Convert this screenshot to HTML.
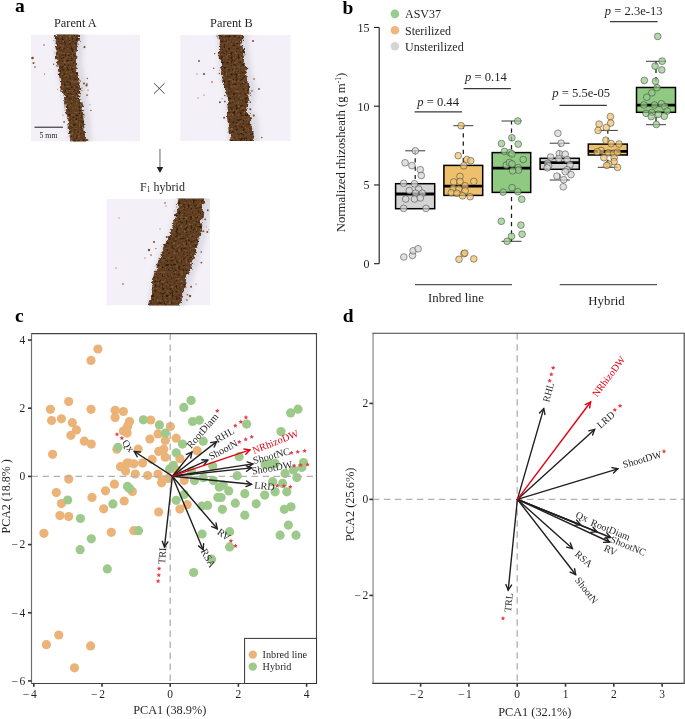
<!DOCTYPE html>
<html><head><meta charset="utf-8"><title>Figure</title>
<style>html,body{margin:0;padding:0;background:#fff;}body{width:685px;height:719px;overflow:hidden;font-family:"Liberation Serif",serif;}svg{display:block;will-change:transform;}</style>
</head><body>
<svg width="685" height="719" viewBox="0 0 685 719" font-family='"Liberation Serif", serif'><defs><filter id="soil" x="-20%" y="-5%" width="140%" height="110%" color-interpolation-filters="sRGB"><feTurbulence type="fractalNoise" baseFrequency="0.12" numOctaves="2" seed="4" result="n0"/><feDisplacementMap in="SourceGraphic" in2="n0" scale="6" xChannelSelector="R" yChannelSelector="G" result="d0"/><feTurbulence type="fractalNoise" baseFrequency="0.5" numOctaves="2" seed="8" result="n"/><feDisplacementMap in="d0" in2="n" scale="4" xChannelSelector="R" yChannelSelector="G" result="d"/><feTurbulence type="fractalNoise" baseFrequency="0.42" numOctaves="2" seed="11" result="n2"/><feColorMatrix in="n2" type="matrix" values="0 0 0 0 0.55  0 0 0 0 0.38  0 0 0 0 0.22  3 0 0 0 -1.55" result="lt"/><feColorMatrix in="n2" type="matrix" values="0 0 0 0 0.2  0 0 0 0 0.12  0 0 0 0 0.05  0 -5 0 0 2.3" result="dk"/><feMerge result="m"><feMergeNode in="d"/><feMergeNode in="lt"/><feMergeNode in="dk"/></feMerge><feComposite in="m" in2="d" operator="in" result="c"/><feGaussianBlur in="c" stdDeviation="0.35"/></filter><filter id="blur2" x="-20%" y="-20%" width="140%" height="140%"><feGaussianBlur stdDeviation="2.6"/></filter><clipPath id="clipA"><rect x="31" y="34.5" width="109" height="107.0"/></clipPath><clipPath id="clipB"><rect x="180.2" y="34.8" width="110.5" height="106.3"/></clipPath><clipPath id="clipF"><rect x="106.3" y="198.6" width="103.8" height="106.9"/></clipPath></defs><rect width="685" height="719" fill="#fff"/><g clip-path="url(#clipA)">
<rect x="31" y="34.5" width="109" height="107.0" fill="#f3f0f8"/>
<polygon points="55.4,30.0 54.3,45.0 54.8,55.0 56.2,65.0 58.7,80.0 62.5,95.0 65.0,110.0 67.5,125.0 71.0,146.0 91.5,146.0 90.5,125.0 89.0,110.0 86.5,95.0 85.7,80.0 82.2,65.0 82.5,55.0 83.5,45.0 84.8,30.0" fill="#dcd9e2" filter="url(#blur2)"/>
<polygon points="56.4,30.0 55.3,45.0 55.8,55.0 57.2,65.0 59.7,80.0 63.5,95.0 66.0,110.0 68.5,125.0 72.0,146.0 85.5,146.0 84.5,125.0 83.0,110.0 80.5,95.0 79.7,80.0 76.2,65.0 76.5,55.0 77.5,45.0 78.8,30.0" fill="#5f3e22" filter="url(#soil)"/>
<circle cx="44" cy="45" r="0.7" fill="#7a4c22"/>
<circle cx="32.5" cy="58" r="1.3" fill="#7a4c22"/>
<circle cx="33.5" cy="63" r="1.0" fill="#7a4c22"/>
<circle cx="35" cy="67" r="0.8" fill="#7a4c22"/>
<circle cx="44.5" cy="74" r="0.6" fill="#7a4c22"/>
<circle cx="84" cy="83.5" r="1.0" fill="#7a4c22"/>
<circle cx="87" cy="84" r="0.8" fill="#7a4c22"/>
<circle cx="88" cy="90" r="0.6" fill="#7a4c22"/>
<circle cx="82" cy="88" r="0.6" fill="#7a4c22"/>
<circle cx="87.5" cy="140" r="0.9" fill="#7a4c22"/>
<circle cx="60.8" cy="90.8" r="0.85" fill="#7a4c22"/>
<circle cx="87.0" cy="95.1" r="0.84" fill="#7a4c22"/>
<circle cx="89.9" cy="104.8" r="0.49" fill="#7a4c22"/>
<circle cx="84.5" cy="47.1" r="1.09" fill="#7a4c22"/>
<circle cx="53.7" cy="64.2" r="0.68" fill="#7a4c22"/>
<circle cx="87.3" cy="78.5" r="0.64" fill="#7a4c22"/>
<circle cx="86.5" cy="85.4" r="1.1" fill="#7a4c22"/>
<circle cx="62.9" cy="115.0" r="0.55" fill="#7a4c22"/>
<circle cx="57.6" cy="89.3" r="0.47" fill="#7a4c22"/>
<circle cx="81.9" cy="90.5" r="0.61" fill="#7a4c22"/>
<circle cx="64.1" cy="121.9" r="0.84" fill="#7a4c22"/>
<circle cx="90.9" cy="110.4" r="0.72" fill="#7a4c22"/>
</g>
<g clip-path="url(#clipB)">
<rect x="180.2" y="34.8" width="110.5" height="106.3" fill="#f3f0f8"/>
<polygon points="217.3,30.0 218.0,50.0 219.6,71.7 223.0,85.0 225.4,95.0 226.2,103.0 226.6,109.0 227.0,118.0 230.0,146.0 259.3,146.0 258.0,118.0 252.3,109.0 254.0,103.0 255.8,95.0 255.0,85.0 251.5,71.7 249.0,50.0 247.6,30.0" fill="#dcd9e2" filter="url(#blur2)"/>
<polygon points="218.3,30.0 219.0,50.0 220.6,71.7 224.0,85.0 226.4,95.0 227.2,103.0 227.6,109.0 228.0,118.0 231.0,146.0 253.3,146.0 252.0,118.0 246.3,109.0 248.0,103.0 249.8,95.0 249.0,85.0 245.5,71.7 243.0,50.0 241.6,30.0" fill="#5f3e22" filter="url(#soil)"/>
<circle cx="253" cy="41" r="1.0" fill="#7a4c22"/>
<circle cx="199" cy="61" r="0.9" fill="#7a4c22"/>
<circle cx="197" cy="74" r="0.6" fill="#7a4c22"/>
<circle cx="204" cy="74" r="1.1" fill="#7a4c22"/>
<circle cx="212" cy="82" r="0.8" fill="#7a4c22"/>
<circle cx="198" cy="98" r="0.6" fill="#7a4c22"/>
<circle cx="254" cy="79" r="0.8" fill="#7a4c22"/>
<circle cx="259" cy="89" r="0.9" fill="#7a4c22"/>
<circle cx="252" cy="91" r="0.8" fill="#7a4c22"/>
<circle cx="204" cy="95" r="0.6" fill="#7a4c22"/>
<circle cx="241" cy="130" r="0.6" fill="#7a4c22"/>
<circle cx="222.1" cy="98.8" r="0.51" fill="#7a4c22"/>
<circle cx="224.8" cy="101.5" r="0.86" fill="#7a4c22"/>
<circle cx="214.7" cy="53.7" r="0.67" fill="#7a4c22"/>
<circle cx="261.8" cy="137.5" r="0.77" fill="#7a4c22"/>
<circle cx="224.1" cy="117.8" r="1.02" fill="#7a4c22"/>
<circle cx="253.8" cy="115.6" r="1.03" fill="#7a4c22"/>
<circle cx="250.3" cy="109.2" r="1.05" fill="#7a4c22"/>
<circle cx="219.4" cy="73.4" r="0.75" fill="#7a4c22"/>
<circle cx="219.9" cy="102.3" r="0.99" fill="#7a4c22"/>
<circle cx="250.3" cy="102.1" r="0.85" fill="#7a4c22"/>
<circle cx="213.7" cy="68.3" r="0.69" fill="#7a4c22"/>
<circle cx="224.8" cy="95.5" r="0.83" fill="#7a4c22"/>
</g>
<g clip-path="url(#clipF)">
<rect x="106.3" y="198.6" width="103.8" height="106.9" fill="#f3f0f8"/>
<polygon points="178.5,193.0 174.0,215.0 168.5,234.6 157.8,258.0 152.0,280.0 147.5,310.0 184.9,310.0 192.5,280.0 200.3,258.0 206.2,234.6 209.0,215.0 212.0,193.0" fill="#dcd9e2" filter="url(#blur2)"/>
<polygon points="179.5,193.0 175.0,215.0 169.5,234.6 158.8,258.0 153.0,280.0 148.5,310.0 178.9,310.0 186.5,280.0 194.3,258.0 200.2,234.6 203.0,215.0 206.0,193.0" fill="#5f3e22" filter="url(#soil)"/>
<circle cx="165" cy="203" r="0.8" fill="#7a4c22"/>
<circle cx="166" cy="206" r="0.6" fill="#7a4c22"/>
<circle cx="160" cy="229" r="0.6" fill="#7a4c22"/>
<circle cx="154" cy="242" r="1.0" fill="#7a4c22"/>
<circle cx="149" cy="250" r="1.2" fill="#7a4c22"/>
<circle cx="151" cy="255" r="0.8" fill="#7a4c22"/>
<circle cx="159" cy="262" r="0.6" fill="#7a4c22"/>
<circle cx="145" cy="258" r="0.6" fill="#7a4c22"/>
<circle cx="116" cy="268" r="0.6" fill="#7a4c22"/>
<circle cx="123" cy="284" r="0.8" fill="#7a4c22"/>
<circle cx="181" cy="272" r="0.8" fill="#7a4c22"/>
<circle cx="188" cy="268" r="1.1" fill="#7a4c22"/>
<circle cx="191" cy="265" r="0.9" fill="#7a4c22"/>
<circle cx="196" cy="284" r="0.6" fill="#7a4c22"/>
<circle cx="190" cy="296" r="1.2" fill="#7a4c22"/>
<circle cx="187" cy="300" r="0.8" fill="#7a4c22"/>
<circle cx="119" cy="218" r="0.5" fill="#7a4c22"/>
<circle cx="211.2" cy="218.7" r="0.58" fill="#7a4c22"/>
<circle cx="155.9" cy="248.6" r="0.58" fill="#7a4c22"/>
<circle cx="208.8" cy="229.8" r="0.46" fill="#7a4c22"/>
<circle cx="205.1" cy="219.3" r="0.9" fill="#7a4c22"/>
<circle cx="207.8" cy="210.2" r="0.94" fill="#7a4c22"/>
<circle cx="187.4" cy="294.8" r="0.71" fill="#7a4c22"/>
<circle cx="201.4" cy="262.6" r="0.92" fill="#7a4c22"/>
<circle cx="191.1" cy="286.7" r="0.97" fill="#7a4c22"/>
<circle cx="203.3" cy="231.3" r="1.03" fill="#7a4c22"/>
<circle cx="166.8" cy="237.0" r="1.09" fill="#7a4c22"/>
<circle cx="207.3" cy="232.0" r="1.03" fill="#7a4c22"/>
<circle cx="201.3" cy="252.0" r="0.83" fill="#7a4c22"/>
<circle cx="206.4" cy="226.9" r="0.47" fill="#7a4c22"/>
</g>
<text x="14.90" y="11.70" font-size="19.5" text-anchor="start" font-weight="bold" font-style="normal" fill="#000" >a</text>
<text x="75.35" y="27.00" font-size="12.3" text-anchor="middle" font-weight="normal" font-style="normal" fill="#231f20" >Parent A</text>
<text x="231.45" y="27.00" font-size="12.3" text-anchor="middle" font-weight="normal" font-style="normal" fill="#231f20" >Parent B</text>
<line x1="34.50" y1="127.20" x2="63.00" y2="127.20" stroke="#1a1a1a" stroke-width="1.0" />
<text x="48.50" y="138.40" font-size="7.8" text-anchor="middle" font-weight="normal" font-style="normal" fill="#231f20" >5 mm</text>
<line x1="154.00" y1="83.20" x2="164.60" y2="93.70" stroke="#333" stroke-width="0.9" />
<line x1="154.00" y1="93.70" x2="164.60" y2="83.20" stroke="#333" stroke-width="0.9" />
<line x1="159.95" y1="148.90" x2="159.95" y2="167.50" stroke="#a8a4a4" stroke-width="1.7" />
<polygon points="156.7,167.0 163.2,167.0 159.95,173.0" fill="#231f20"/>
<text x="162.5" y="190.8" font-size="12" text-anchor="middle" fill="#231f20">F<tspan font-size="7.5" dy="1">1</tspan><tspan dy="-1"> hybrid</tspan></text>
<text x="342.60" y="14.00" font-size="19.5" text-anchor="start" font-weight="bold" font-style="normal" fill="#000" >b</text>
<line x1="379.20" y1="27.45" x2="379.20" y2="263.70" stroke="#1a1a1a" stroke-width="1.1" />
<line x1="374.00" y1="263.70" x2="379.20" y2="263.70" stroke="#1a1a1a" stroke-width="1.1" />
<text x="369.60" y="268.20" font-size="12" text-anchor="end" font-weight="normal" font-style="normal" fill="#231f20" >0</text>
<line x1="374.00" y1="184.95" x2="379.20" y2="184.95" stroke="#1a1a1a" stroke-width="1.1" />
<text x="369.60" y="189.45" font-size="12" text-anchor="end" font-weight="normal" font-style="normal" fill="#231f20" >5</text>
<line x1="374.00" y1="106.20" x2="379.20" y2="106.20" stroke="#1a1a1a" stroke-width="1.1" />
<text x="369.60" y="110.70" font-size="12" text-anchor="end" font-weight="normal" font-style="normal" fill="#231f20" >10</text>
<line x1="374.00" y1="27.45" x2="379.20" y2="27.45" stroke="#1a1a1a" stroke-width="1.1" />
<text x="369.60" y="31.95" font-size="12" text-anchor="end" font-weight="normal" font-style="normal" fill="#231f20" >15</text>
<text transform="translate(345.3,152.5) rotate(-90)" font-size="12.75" text-anchor="middle" fill="#231f20">Normalized rhizosheath (g m<tspan font-size="7.5" dy="-4.5">-1</tspan><tspan dy="4.5">)</tspan></text>
<circle cx="394.9" cy="13.9" r="4.3" fill="#98cd8c"/>
<text x="405.00" y="18.20" font-size="12" text-anchor="start" font-weight="normal" font-style="normal" fill="#231f20" >ASV37</text>
<circle cx="394.9" cy="30.2" r="4.3" fill="#f2b67c"/>
<text x="405.00" y="34.50" font-size="12" text-anchor="start" font-weight="normal" font-style="normal" fill="#231f20" >Sterilized</text>
<circle cx="394.9" cy="46.3" r="4.3" fill="#d3d5d5"/>
<text x="405.00" y="50.60" font-size="12" text-anchor="start" font-weight="normal" font-style="normal" fill="#231f20" >Unsterilized</text>
<line x1="415.20" y1="150.80" x2="415.20" y2="183.70" stroke="#1a1a1a" stroke-width="1.25" stroke-dasharray="4.2,4.1" stroke-dashoffset="0.8"/>
<line x1="405.20" y1="150.80" x2="425.20" y2="150.80" stroke="#3a3a3a" stroke-width="1.0" />
<rect x="395.60" y="183.70" width="39.10" height="25.00" fill="#d4d4d4" stroke="#000" stroke-width="1.5"/>
<line x1="395.60" y1="194.00" x2="434.70" y2="194.00" stroke="#000" stroke-width="2.8" />
<line x1="463.30" y1="125.70" x2="463.30" y2="165.40" stroke="#1a1a1a" stroke-width="1.25" stroke-dasharray="4.2,4.1" stroke-dashoffset="0.8"/>
<line x1="453.30" y1="125.70" x2="473.30" y2="125.70" stroke="#3a3a3a" stroke-width="1.0" />
<rect x="443.90" y="165.40" width="38.80" height="30.00" fill="#eec06c" stroke="#000" stroke-width="1.5"/>
<line x1="443.90" y1="186.20" x2="482.70" y2="186.20" stroke="#000" stroke-width="2.8" />
<line x1="511.50" y1="121.00" x2="511.50" y2="152.60" stroke="#1a1a1a" stroke-width="1.25" stroke-dasharray="4.2,4.1" stroke-dashoffset="0.8"/>
<line x1="501.50" y1="121.00" x2="521.50" y2="121.00" stroke="#3a3a3a" stroke-width="1.0" />
<line x1="511.50" y1="192.40" x2="511.50" y2="241.30" stroke="#1a1a1a" stroke-width="1.25" stroke-dasharray="4.2,4.1" stroke-dashoffset="3.6"/>
<line x1="501.50" y1="241.30" x2="521.50" y2="241.30" stroke="#3a3a3a" stroke-width="1.0" />
<rect x="492.20" y="152.60" width="38.50" height="39.80" fill="#90ca82" stroke="#000" stroke-width="1.5"/>
<line x1="492.20" y1="168.20" x2="530.70" y2="168.20" stroke="#000" stroke-width="2.8" />
<line x1="559.70" y1="143.20" x2="559.70" y2="158.30" stroke="#1a1a1a" stroke-width="1.25" stroke-dasharray="4.2,4.1" stroke-dashoffset="0.8"/>
<line x1="549.70" y1="143.20" x2="569.70" y2="143.20" stroke="#3a3a3a" stroke-width="1.0" />
<line x1="559.70" y1="169.30" x2="559.70" y2="180.00" stroke="#1a1a1a" stroke-width="1.25" stroke-dasharray="4.2,4.1" stroke-dashoffset="3.6"/>
<line x1="549.70" y1="180.00" x2="569.70" y2="180.00" stroke="#3a3a3a" stroke-width="1.0" />
<rect x="540.10" y="158.30" width="39.20" height="11.00" fill="#d4d4d4" stroke="#000" stroke-width="1.5"/>
<line x1="540.10" y1="162.60" x2="579.30" y2="162.60" stroke="#000" stroke-width="2.8" />
<line x1="607.80" y1="130.40" x2="607.80" y2="144.10" stroke="#1a1a1a" stroke-width="1.25" stroke-dasharray="4.2,4.1" stroke-dashoffset="0.8"/>
<line x1="597.80" y1="130.40" x2="617.80" y2="130.40" stroke="#3a3a3a" stroke-width="1.0" />
<line x1="607.80" y1="155.00" x2="607.80" y2="167.30" stroke="#1a1a1a" stroke-width="1.25" stroke-dasharray="4.2,4.1" stroke-dashoffset="3.6"/>
<line x1="597.80" y1="167.30" x2="617.80" y2="167.30" stroke="#3a3a3a" stroke-width="1.0" />
<rect x="588.30" y="144.10" width="39.00" height="10.90" fill="#eec06c" stroke="#000" stroke-width="1.5"/>
<line x1="588.30" y1="151.30" x2="627.30" y2="151.30" stroke="#000" stroke-width="2.8" />
<line x1="656.00" y1="61.30" x2="656.00" y2="87.50" stroke="#1a1a1a" stroke-width="1.25" stroke-dasharray="4.2,4.1" stroke-dashoffset="0.8"/>
<line x1="646.00" y1="61.30" x2="666.00" y2="61.30" stroke="#3a3a3a" stroke-width="1.0" />
<line x1="656.00" y1="112.30" x2="656.00" y2="124.70" stroke="#1a1a1a" stroke-width="1.25" stroke-dasharray="4.2,4.1" stroke-dashoffset="3.6"/>
<line x1="646.00" y1="124.70" x2="666.00" y2="124.70" stroke="#3a3a3a" stroke-width="1.0" />
<rect x="636.50" y="87.50" width="39.00" height="24.80" fill="#90ca82" stroke="#000" stroke-width="1.5"/>
<line x1="636.50" y1="105.10" x2="675.50" y2="105.10" stroke="#000" stroke-width="2.8" />
<circle cx="415.4" cy="150.8" r="3.35" fill="#d6d6d6" fill-opacity="0.72" stroke="#3c3c3c" stroke-opacity="0.75" stroke-width="0.7"/>
<circle cx="405.1" cy="162.8" r="3.35" fill="#d6d6d6" fill-opacity="0.72" stroke="#3c3c3c" stroke-opacity="0.75" stroke-width="0.7"/>
<circle cx="411.9" cy="165.6" r="3.35" fill="#d6d6d6" fill-opacity="0.72" stroke="#3c3c3c" stroke-opacity="0.75" stroke-width="0.7"/>
<circle cx="420.3" cy="169.7" r="3.35" fill="#d6d6d6" fill-opacity="0.72" stroke="#3c3c3c" stroke-opacity="0.75" stroke-width="0.7"/>
<circle cx="421.3" cy="175.5" r="3.35" fill="#d6d6d6" fill-opacity="0.72" stroke="#3c3c3c" stroke-opacity="0.75" stroke-width="0.7"/>
<circle cx="403.6" cy="183.3" r="3.35" fill="#d6d6d6" fill-opacity="0.72" stroke="#3c3c3c" stroke-opacity="0.75" stroke-width="0.7"/>
<circle cx="414.5" cy="183.8" r="3.35" fill="#d6d6d6" fill-opacity="0.72" stroke="#3c3c3c" stroke-opacity="0.75" stroke-width="0.7"/>
<circle cx="409.3" cy="190.6" r="3.35" fill="#d6d6d6" fill-opacity="0.72" stroke="#3c3c3c" stroke-opacity="0.75" stroke-width="0.7"/>
<circle cx="418.7" cy="189.1" r="3.35" fill="#d6d6d6" fill-opacity="0.72" stroke="#3c3c3c" stroke-opacity="0.75" stroke-width="0.7"/>
<circle cx="415.6" cy="193.2" r="3.35" fill="#d6d6d6" fill-opacity="0.72" stroke="#3c3c3c" stroke-opacity="0.75" stroke-width="0.7"/>
<circle cx="422.4" cy="193.2" r="3.35" fill="#d6d6d6" fill-opacity="0.72" stroke="#3c3c3c" stroke-opacity="0.75" stroke-width="0.7"/>
<circle cx="405.7" cy="199" r="3.35" fill="#d6d6d6" fill-opacity="0.72" stroke="#3c3c3c" stroke-opacity="0.75" stroke-width="0.7"/>
<circle cx="414.5" cy="199" r="3.35" fill="#d6d6d6" fill-opacity="0.72" stroke="#3c3c3c" stroke-opacity="0.75" stroke-width="0.7"/>
<circle cx="420.3" cy="197.9" r="3.35" fill="#d6d6d6" fill-opacity="0.72" stroke="#3c3c3c" stroke-opacity="0.75" stroke-width="0.7"/>
<circle cx="403.6" cy="208.4" r="3.35" fill="#d6d6d6" fill-opacity="0.72" stroke="#3c3c3c" stroke-opacity="0.75" stroke-width="0.7"/>
<circle cx="426" cy="208.4" r="3.35" fill="#d6d6d6" fill-opacity="0.72" stroke="#3c3c3c" stroke-opacity="0.75" stroke-width="0.7"/>
<circle cx="403.8" cy="257" r="3.35" fill="#d6d6d6" fill-opacity="0.72" stroke="#3c3c3c" stroke-opacity="0.75" stroke-width="0.7"/>
<circle cx="412.5" cy="255.4" r="3.35" fill="#d6d6d6" fill-opacity="0.72" stroke="#3c3c3c" stroke-opacity="0.75" stroke-width="0.7"/>
<circle cx="413.1" cy="250.8" r="3.35" fill="#d6d6d6" fill-opacity="0.72" stroke="#3c3c3c" stroke-opacity="0.75" stroke-width="0.7"/>
<circle cx="418.1" cy="248.8" r="3.35" fill="#d6d6d6" fill-opacity="0.72" stroke="#3c3c3c" stroke-opacity="0.75" stroke-width="0.7"/>
<circle cx="557.9" cy="133.3" r="3.35" fill="#d6d6d6" fill-opacity="0.72" stroke="#3c3c3c" stroke-opacity="0.75" stroke-width="0.7"/>
<circle cx="561.1" cy="143.2" r="3.35" fill="#d6d6d6" fill-opacity="0.72" stroke="#3c3c3c" stroke-opacity="0.75" stroke-width="0.7"/>
<circle cx="559.3" cy="153.7" r="3.35" fill="#d6d6d6" fill-opacity="0.72" stroke="#3c3c3c" stroke-opacity="0.75" stroke-width="0.7"/>
<circle cx="565.2" cy="154.2" r="3.35" fill="#d6d6d6" fill-opacity="0.72" stroke="#3c3c3c" stroke-opacity="0.75" stroke-width="0.7"/>
<circle cx="550.6" cy="157.1" r="3.35" fill="#d6d6d6" fill-opacity="0.72" stroke="#3c3c3c" stroke-opacity="0.75" stroke-width="0.7"/>
<circle cx="558.8" cy="158.6" r="3.35" fill="#d6d6d6" fill-opacity="0.72" stroke="#3c3c3c" stroke-opacity="0.75" stroke-width="0.7"/>
<circle cx="567.1" cy="159.5" r="3.35" fill="#d6d6d6" fill-opacity="0.72" stroke="#3c3c3c" stroke-opacity="0.75" stroke-width="0.7"/>
<circle cx="547.6" cy="163.4" r="3.35" fill="#d6d6d6" fill-opacity="0.72" stroke="#3c3c3c" stroke-opacity="0.75" stroke-width="0.7"/>
<circle cx="548.6" cy="165.9" r="3.35" fill="#d6d6d6" fill-opacity="0.72" stroke="#3c3c3c" stroke-opacity="0.75" stroke-width="0.7"/>
<circle cx="570" cy="164.9" r="3.35" fill="#d6d6d6" fill-opacity="0.72" stroke="#3c3c3c" stroke-opacity="0.75" stroke-width="0.7"/>
<circle cx="567.1" cy="169.7" r="3.35" fill="#d6d6d6" fill-opacity="0.72" stroke="#3c3c3c" stroke-opacity="0.75" stroke-width="0.7"/>
<circle cx="571" cy="174.6" r="3.35" fill="#d6d6d6" fill-opacity="0.72" stroke="#3c3c3c" stroke-opacity="0.75" stroke-width="0.7"/>
<circle cx="556.9" cy="176.1" r="3.35" fill="#d6d6d6" fill-opacity="0.72" stroke="#3c3c3c" stroke-opacity="0.75" stroke-width="0.7"/>
<circle cx="563.7" cy="179.7" r="3.35" fill="#d6d6d6" fill-opacity="0.72" stroke="#3c3c3c" stroke-opacity="0.75" stroke-width="0.7"/>
<circle cx="563.2" cy="186.8" r="3.35" fill="#d6d6d6" fill-opacity="0.72" stroke="#3c3c3c" stroke-opacity="0.75" stroke-width="0.7"/>
<circle cx="547.2" cy="167.8" r="3.35" fill="#d6d6d6" fill-opacity="0.72" stroke="#3c3c3c" stroke-opacity="0.75" stroke-width="0.7"/>
<circle cx="565.2" cy="171.7" r="3.35" fill="#d6d6d6" fill-opacity="0.72" stroke="#3c3c3c" stroke-opacity="0.75" stroke-width="0.7"/>
<circle cx="461.1" cy="125.7" r="3.35" fill="#f0c26e" fill-opacity="0.72" stroke="#3c3c3c" stroke-opacity="0.75" stroke-width="0.7"/>
<circle cx="458.2" cy="155.7" r="3.35" fill="#f0c26e" fill-opacity="0.72" stroke="#3c3c3c" stroke-opacity="0.75" stroke-width="0.7"/>
<circle cx="466.9" cy="159.5" r="3.35" fill="#f0c26e" fill-opacity="0.72" stroke="#3c3c3c" stroke-opacity="0.75" stroke-width="0.7"/>
<circle cx="470.7" cy="160.7" r="3.35" fill="#f0c26e" fill-opacity="0.72" stroke="#3c3c3c" stroke-opacity="0.75" stroke-width="0.7"/>
<circle cx="463.8" cy="165.8" r="3.35" fill="#f0c26e" fill-opacity="0.72" stroke="#3c3c3c" stroke-opacity="0.75" stroke-width="0.7"/>
<circle cx="460" cy="176.4" r="3.35" fill="#f0c26e" fill-opacity="0.72" stroke="#3c3c3c" stroke-opacity="0.75" stroke-width="0.7"/>
<circle cx="453.8" cy="182" r="3.35" fill="#f0c26e" fill-opacity="0.72" stroke="#3c3c3c" stroke-opacity="0.75" stroke-width="0.7"/>
<circle cx="460" cy="181.4" r="3.35" fill="#f0c26e" fill-opacity="0.72" stroke="#3c3c3c" stroke-opacity="0.75" stroke-width="0.7"/>
<circle cx="473.8" cy="181.4" r="3.35" fill="#f0c26e" fill-opacity="0.72" stroke="#3c3c3c" stroke-opacity="0.75" stroke-width="0.7"/>
<circle cx="465.1" cy="185.8" r="3.35" fill="#f0c26e" fill-opacity="0.72" stroke="#3c3c3c" stroke-opacity="0.75" stroke-width="0.7"/>
<circle cx="453.2" cy="188.3" r="3.35" fill="#f0c26e" fill-opacity="0.72" stroke="#3c3c3c" stroke-opacity="0.75" stroke-width="0.7"/>
<circle cx="458.8" cy="188.9" r="3.35" fill="#f0c26e" fill-opacity="0.72" stroke="#3c3c3c" stroke-opacity="0.75" stroke-width="0.7"/>
<circle cx="465.1" cy="190.8" r="3.35" fill="#f0c26e" fill-opacity="0.72" stroke="#3c3c3c" stroke-opacity="0.75" stroke-width="0.7"/>
<circle cx="451.3" cy="192.7" r="3.35" fill="#f0c26e" fill-opacity="0.72" stroke="#3c3c3c" stroke-opacity="0.75" stroke-width="0.7"/>
<circle cx="456.9" cy="193.3" r="3.35" fill="#f0c26e" fill-opacity="0.72" stroke="#3c3c3c" stroke-opacity="0.75" stroke-width="0.7"/>
<circle cx="462.6" cy="195.8" r="3.35" fill="#f0c26e" fill-opacity="0.72" stroke="#3c3c3c" stroke-opacity="0.75" stroke-width="0.7"/>
<circle cx="470.1" cy="196.7" r="3.35" fill="#f0c26e" fill-opacity="0.72" stroke="#3c3c3c" stroke-opacity="0.75" stroke-width="0.7"/>
<circle cx="459" cy="259.3" r="3.35" fill="#f0c26e" fill-opacity="0.72" stroke="#3c3c3c" stroke-opacity="0.75" stroke-width="0.7"/>
<circle cx="463.9" cy="253.7" r="3.35" fill="#f0c26e" fill-opacity="0.72" stroke="#3c3c3c" stroke-opacity="0.75" stroke-width="0.7"/>
<circle cx="464.8" cy="253.1" r="3.35" fill="#f0c26e" fill-opacity="0.72" stroke="#3c3c3c" stroke-opacity="0.75" stroke-width="0.7"/>
<circle cx="473.8" cy="258.9" r="3.35" fill="#f0c26e" fill-opacity="0.72" stroke="#3c3c3c" stroke-opacity="0.75" stroke-width="0.7"/>
<circle cx="610.4" cy="116.6" r="3.35" fill="#f0c26e" fill-opacity="0.72" stroke="#3c3c3c" stroke-opacity="0.75" stroke-width="0.7"/>
<circle cx="610.7" cy="123.1" r="3.35" fill="#f0c26e" fill-opacity="0.72" stroke="#3c3c3c" stroke-opacity="0.75" stroke-width="0.7"/>
<circle cx="599.1" cy="124.1" r="3.35" fill="#f0c26e" fill-opacity="0.72" stroke="#3c3c3c" stroke-opacity="0.75" stroke-width="0.7"/>
<circle cx="606.3" cy="127.5" r="3.35" fill="#f0c26e" fill-opacity="0.72" stroke="#3c3c3c" stroke-opacity="0.75" stroke-width="0.7"/>
<circle cx="598.1" cy="130.4" r="3.35" fill="#f0c26e" fill-opacity="0.72" stroke="#3c3c3c" stroke-opacity="0.75" stroke-width="0.7"/>
<circle cx="605.9" cy="140.2" r="3.35" fill="#f0c26e" fill-opacity="0.72" stroke="#3c3c3c" stroke-opacity="0.75" stroke-width="0.7"/>
<circle cx="611.2" cy="143.6" r="3.35" fill="#f0c26e" fill-opacity="0.72" stroke="#3c3c3c" stroke-opacity="0.75" stroke-width="0.7"/>
<circle cx="619" cy="144" r="3.35" fill="#f0c26e" fill-opacity="0.72" stroke="#3c3c3c" stroke-opacity="0.75" stroke-width="0.7"/>
<circle cx="601" cy="150.4" r="3.35" fill="#f0c26e" fill-opacity="0.72" stroke="#3c3c3c" stroke-opacity="0.75" stroke-width="0.7"/>
<circle cx="597.1" cy="151.8" r="3.35" fill="#f0c26e" fill-opacity="0.72" stroke="#3c3c3c" stroke-opacity="0.75" stroke-width="0.7"/>
<circle cx="608.3" cy="152.8" r="3.35" fill="#f0c26e" fill-opacity="0.72" stroke="#3c3c3c" stroke-opacity="0.75" stroke-width="0.7"/>
<circle cx="613.6" cy="153.3" r="3.35" fill="#f0c26e" fill-opacity="0.72" stroke="#3c3c3c" stroke-opacity="0.75" stroke-width="0.7"/>
<circle cx="617.5" cy="152.3" r="3.35" fill="#f0c26e" fill-opacity="0.72" stroke="#3c3c3c" stroke-opacity="0.75" stroke-width="0.7"/>
<circle cx="603.9" cy="157.7" r="3.35" fill="#f0c26e" fill-opacity="0.72" stroke="#3c3c3c" stroke-opacity="0.75" stroke-width="0.7"/>
<circle cx="614.1" cy="157.7" r="3.35" fill="#f0c26e" fill-opacity="0.72" stroke="#3c3c3c" stroke-opacity="0.75" stroke-width="0.7"/>
<circle cx="614.1" cy="161.6" r="3.35" fill="#f0c26e" fill-opacity="0.72" stroke="#3c3c3c" stroke-opacity="0.75" stroke-width="0.7"/>
<circle cx="608.8" cy="164" r="3.35" fill="#f0c26e" fill-opacity="0.72" stroke="#3c3c3c" stroke-opacity="0.75" stroke-width="0.7"/>
<circle cx="606.8" cy="165.4" r="3.35" fill="#f0c26e" fill-opacity="0.72" stroke="#3c3c3c" stroke-opacity="0.75" stroke-width="0.7"/>
<circle cx="617.5" cy="167.4" r="3.35" fill="#f0c26e" fill-opacity="0.72" stroke="#3c3c3c" stroke-opacity="0.75" stroke-width="0.7"/>
<circle cx="517.8" cy="121" r="3.35" fill="#93cc86" fill-opacity="0.72" stroke="#3c3c3c" stroke-opacity="0.75" stroke-width="0.7"/>
<circle cx="511.9" cy="137.8" r="3.35" fill="#93cc86" fill-opacity="0.72" stroke="#3c3c3c" stroke-opacity="0.75" stroke-width="0.7"/>
<circle cx="501.5" cy="143.6" r="3.35" fill="#93cc86" fill-opacity="0.72" stroke="#3c3c3c" stroke-opacity="0.75" stroke-width="0.7"/>
<circle cx="518.2" cy="144.1" r="3.35" fill="#93cc86" fill-opacity="0.72" stroke="#3c3c3c" stroke-opacity="0.75" stroke-width="0.7"/>
<circle cx="504.4" cy="151.4" r="3.35" fill="#93cc86" fill-opacity="0.72" stroke="#3c3c3c" stroke-opacity="0.75" stroke-width="0.7"/>
<circle cx="510.1" cy="152.6" r="3.35" fill="#93cc86" fill-opacity="0.72" stroke="#3c3c3c" stroke-opacity="0.75" stroke-width="0.7"/>
<circle cx="512" cy="153.9" r="3.35" fill="#93cc86" fill-opacity="0.72" stroke="#3c3c3c" stroke-opacity="0.75" stroke-width="0.7"/>
<circle cx="523.2" cy="159.5" r="3.35" fill="#93cc86" fill-opacity="0.72" stroke="#3c3c3c" stroke-opacity="0.75" stroke-width="0.7"/>
<circle cx="506.3" cy="165.1" r="3.35" fill="#93cc86" fill-opacity="0.72" stroke="#3c3c3c" stroke-opacity="0.75" stroke-width="0.7"/>
<circle cx="509.4" cy="162.6" r="3.35" fill="#93cc86" fill-opacity="0.72" stroke="#3c3c3c" stroke-opacity="0.75" stroke-width="0.7"/>
<circle cx="512" cy="163.9" r="3.35" fill="#93cc86" fill-opacity="0.72" stroke="#3c3c3c" stroke-opacity="0.75" stroke-width="0.7"/>
<circle cx="518.2" cy="167.6" r="3.35" fill="#93cc86" fill-opacity="0.72" stroke="#3c3c3c" stroke-opacity="0.75" stroke-width="0.7"/>
<circle cx="518.6" cy="170.1" r="3.35" fill="#93cc86" fill-opacity="0.72" stroke="#3c3c3c" stroke-opacity="0.75" stroke-width="0.7"/>
<circle cx="512.6" cy="170.8" r="3.35" fill="#93cc86" fill-opacity="0.72" stroke="#3c3c3c" stroke-opacity="0.75" stroke-width="0.7"/>
<circle cx="512" cy="187.7" r="3.35" fill="#93cc86" fill-opacity="0.72" stroke="#3c3c3c" stroke-opacity="0.75" stroke-width="0.7"/>
<circle cx="503.2" cy="192.1" r="3.35" fill="#93cc86" fill-opacity="0.72" stroke="#3c3c3c" stroke-opacity="0.75" stroke-width="0.7"/>
<circle cx="517.8" cy="191.7" r="3.35" fill="#93cc86" fill-opacity="0.72" stroke="#3c3c3c" stroke-opacity="0.75" stroke-width="0.7"/>
<circle cx="521.7" cy="199.2" r="3.35" fill="#93cc86" fill-opacity="0.72" stroke="#3c3c3c" stroke-opacity="0.75" stroke-width="0.7"/>
<circle cx="501.3" cy="221.3" r="3.35" fill="#93cc86" fill-opacity="0.72" stroke="#3c3c3c" stroke-opacity="0.75" stroke-width="0.7"/>
<circle cx="520.9" cy="225.1" r="3.35" fill="#93cc86" fill-opacity="0.72" stroke="#3c3c3c" stroke-opacity="0.75" stroke-width="0.7"/>
<circle cx="522.1" cy="234.2" r="3.35" fill="#93cc86" fill-opacity="0.72" stroke="#3c3c3c" stroke-opacity="0.75" stroke-width="0.7"/>
<circle cx="511.5" cy="236.3" r="3.35" fill="#93cc86" fill-opacity="0.72" stroke="#3c3c3c" stroke-opacity="0.75" stroke-width="0.7"/>
<circle cx="507.1" cy="241.3" r="3.35" fill="#93cc86" fill-opacity="0.72" stroke="#3c3c3c" stroke-opacity="0.75" stroke-width="0.7"/>
<circle cx="657.7" cy="36.4" r="3.35" fill="#93cc86" fill-opacity="0.72" stroke="#3c3c3c" stroke-opacity="0.75" stroke-width="0.7"/>
<circle cx="662.1" cy="61.2" r="3.35" fill="#93cc86" fill-opacity="0.72" stroke="#3c3c3c" stroke-opacity="0.75" stroke-width="0.7"/>
<circle cx="655.1" cy="66.1" r="3.35" fill="#93cc86" fill-opacity="0.72" stroke="#3c3c3c" stroke-opacity="0.75" stroke-width="0.7"/>
<circle cx="661.8" cy="69.9" r="3.35" fill="#93cc86" fill-opacity="0.72" stroke="#3c3c3c" stroke-opacity="0.75" stroke-width="0.7"/>
<circle cx="644.3" cy="80.4" r="3.35" fill="#93cc86" fill-opacity="0.72" stroke="#3c3c3c" stroke-opacity="0.75" stroke-width="0.7"/>
<circle cx="655.5" cy="81.2" r="3.35" fill="#93cc86" fill-opacity="0.72" stroke="#3c3c3c" stroke-opacity="0.75" stroke-width="0.7"/>
<circle cx="657" cy="87.7" r="3.35" fill="#93cc86" fill-opacity="0.72" stroke="#3c3c3c" stroke-opacity="0.75" stroke-width="0.7"/>
<circle cx="651.9" cy="92.8" r="3.35" fill="#93cc86" fill-opacity="0.72" stroke="#3c3c3c" stroke-opacity="0.75" stroke-width="0.7"/>
<circle cx="646.8" cy="97.2" r="3.35" fill="#93cc86" fill-opacity="0.72" stroke="#3c3c3c" stroke-opacity="0.75" stroke-width="0.7"/>
<circle cx="643.9" cy="105" r="3.35" fill="#93cc86" fill-opacity="0.72" stroke="#3c3c3c" stroke-opacity="0.75" stroke-width="0.7"/>
<circle cx="654.5" cy="105" r="3.35" fill="#93cc86" fill-opacity="0.72" stroke="#3c3c3c" stroke-opacity="0.75" stroke-width="0.7"/>
<circle cx="661.4" cy="103.8" r="3.35" fill="#93cc86" fill-opacity="0.72" stroke="#3c3c3c" stroke-opacity="0.75" stroke-width="0.7"/>
<circle cx="665" cy="106.7" r="3.35" fill="#93cc86" fill-opacity="0.72" stroke="#3c3c3c" stroke-opacity="0.75" stroke-width="0.7"/>
<circle cx="667.2" cy="111.1" r="3.35" fill="#93cc86" fill-opacity="0.72" stroke="#3c3c3c" stroke-opacity="0.75" stroke-width="0.7"/>
<circle cx="646" cy="113.3" r="3.35" fill="#93cc86" fill-opacity="0.72" stroke="#3c3c3c" stroke-opacity="0.75" stroke-width="0.7"/>
<circle cx="651.9" cy="112.5" r="3.35" fill="#93cc86" fill-opacity="0.72" stroke="#3c3c3c" stroke-opacity="0.75" stroke-width="0.7"/>
<circle cx="658.4" cy="114.3" r="3.35" fill="#93cc86" fill-opacity="0.72" stroke="#3c3c3c" stroke-opacity="0.75" stroke-width="0.7"/>
<circle cx="664.3" cy="116.2" r="3.35" fill="#93cc86" fill-opacity="0.72" stroke="#3c3c3c" stroke-opacity="0.75" stroke-width="0.7"/>
<circle cx="651.2" cy="116.6" r="3.35" fill="#93cc86" fill-opacity="0.72" stroke="#3c3c3c" stroke-opacity="0.75" stroke-width="0.7"/>
<circle cx="656.3" cy="124.5" r="3.35" fill="#93cc86" fill-opacity="0.72" stroke="#3c3c3c" stroke-opacity="0.75" stroke-width="0.7"/>
<text x="417.20" y="106.20" font-size="12.6" fill="#231f20"><tspan font-style="italic">p</tspan> = 0.44</text>
<line x1="414.60" y1="111.90" x2="462.10" y2="111.90" stroke="#3a3a3a" stroke-width="1.2" />
<text x="465.10" y="80.80" font-size="12.6" fill="#231f20"><tspan font-style="italic">p</tspan> = 0.14</text>
<line x1="463.60" y1="88.70" x2="510.90" y2="88.70" stroke="#3a3a3a" stroke-width="1.2" />
<text x="552.30" y="97.40" font-size="12.6" fill="#231f20"><tspan font-style="italic">p</tspan> = 5.5e-05</text>
<line x1="559.50" y1="105.40" x2="606.80" y2="105.40" stroke="#3a3a3a" stroke-width="1.2" />
<text x="604.80" y="14.90" font-size="12.6" fill="#231f20"><tspan font-style="italic">p</tspan> = 2.3e-13</text>
<line x1="610.10" y1="21.70" x2="657.60" y2="21.70" stroke="#3a3a3a" stroke-width="1.2" />
<line x1="415.00" y1="284.70" x2="512.00" y2="284.70" stroke="#555" stroke-width="1.3" />
<line x1="559.70" y1="284.70" x2="657.00" y2="284.70" stroke="#555" stroke-width="1.3" />
<text x="456.00" y="302.30" font-size="12.8" text-anchor="middle" font-weight="normal" font-style="normal" fill="#231f20" >Inbred line</text>
<text x="606.50" y="304.90" font-size="12.8" text-anchor="middle" font-weight="normal" font-style="normal" fill="#231f20" >Hybrid</text>
<text x="14.90" y="321.80" font-size="19.5" text-anchor="start" font-weight="bold" font-style="normal" fill="#000" >c</text>
<circle cx="97.9" cy="349.0" r="4.6" fill="#ebb378"/>
<circle cx="91.0" cy="360.4" r="4.6" fill="#ebb378"/>
<circle cx="68.7" cy="401.5" r="4.6" fill="#ebb378"/>
<circle cx="50.4" cy="409.3" r="4.6" fill="#ebb378"/>
<circle cx="91.0" cy="409.3" r="4.6" fill="#ebb378"/>
<circle cx="51.6" cy="420.5" r="4.6" fill="#ebb378"/>
<circle cx="61.4" cy="418.8" r="4.6" fill="#ebb378"/>
<circle cx="72.3" cy="422.7" r="4.6" fill="#ebb378"/>
<circle cx="115.1" cy="410.3" r="4.6" fill="#ebb378"/>
<circle cx="123.4" cy="411.5" r="4.6" fill="#ebb378"/>
<circle cx="115.1" cy="417.6" r="4.6" fill="#ebb378"/>
<circle cx="76.4" cy="429.9" r="4.6" fill="#ebb378"/>
<circle cx="70.9" cy="435.3" r="4.6" fill="#ebb378"/>
<circle cx="84.3" cy="441.2" r="4.6" fill="#ebb378"/>
<circle cx="91.3" cy="444.1" r="4.6" fill="#ebb378"/>
<circle cx="52.6" cy="454.3" r="4.6" fill="#ebb378"/>
<circle cx="116.9" cy="449.2" r="4.6" fill="#ebb378"/>
<circle cx="123.4" cy="431" r="4.6" fill="#ebb378"/>
<circle cx="127.8" cy="425.8" r="4.6" fill="#ebb378"/>
<circle cx="127.1" cy="433.1" r="4.6" fill="#ebb378"/>
<circle cx="120.5" cy="466.7" r="4.6" fill="#ebb378"/>
<circle cx="127.1" cy="463.1" r="4.6" fill="#ebb378"/>
<circle cx="125.6" cy="471.1" r="4.6" fill="#ebb378"/>
<circle cx="68.7" cy="479.1" r="4.6" fill="#ebb378"/>
<circle cx="114.4" cy="484.2" r="4.6" fill="#ebb378"/>
<circle cx="105.5" cy="490.8" r="4.6" fill="#ebb378"/>
<circle cx="56.3" cy="492.6" r="4.6" fill="#ebb378"/>
<circle cx="92.0" cy="497.4" r="4.6" fill="#ebb378"/>
<circle cx="61.4" cy="503.6" r="4.6" fill="#ebb378"/>
<circle cx="124.2" cy="501" r="4.6" fill="#ebb378"/>
<circle cx="103.7" cy="508.8" r="4.6" fill="#ebb378"/>
<circle cx="59.9" cy="515.6" r="4.6" fill="#ebb378"/>
<circle cx="68.7" cy="516.6" r="4.6" fill="#ebb378"/>
<circle cx="129.5" cy="421.5" r="4.6" fill="#ebb378"/>
<circle cx="150.7" cy="420" r="4.6" fill="#ebb378"/>
<circle cx="170.4" cy="426.6" r="4.6" fill="#ebb378"/>
<circle cx="126.6" cy="428.8" r="4.6" fill="#ebb378"/>
<circle cx="158" cy="433.9" r="4.6" fill="#ebb378"/>
<circle cx="149.9" cy="439" r="4.6" fill="#ebb378"/>
<circle cx="176.2" cy="438.2" r="4.6" fill="#ebb378"/>
<circle cx="165.3" cy="440.4" r="4.6" fill="#ebb378"/>
<circle cx="138.2" cy="449.2" r="4.6" fill="#ebb378"/>
<circle cx="158.7" cy="451.4" r="4.6" fill="#ebb378"/>
<circle cx="163.8" cy="449.2" r="4.6" fill="#ebb378"/>
<circle cx="165.3" cy="457.2" r="4.6" fill="#ebb378"/>
<circle cx="152.1" cy="459.4" r="4.6" fill="#ebb378"/>
<circle cx="179.9" cy="458.7" r="4.6" fill="#ebb378"/>
<circle cx="197.1" cy="450.7" r="4.6" fill="#ebb378"/>
<circle cx="128.8" cy="463.1" r="4.6" fill="#ebb378"/>
<circle cx="133.9" cy="463.8" r="4.6" fill="#ebb378"/>
<circle cx="142.6" cy="463.1" r="4.6" fill="#ebb378"/>
<circle cx="135.3" cy="474" r="4.6" fill="#ebb378"/>
<circle cx="147.7" cy="475.5" r="4.6" fill="#ebb378"/>
<circle cx="158" cy="474" r="4.6" fill="#ebb378"/>
<circle cx="162.3" cy="479.9" r="4.6" fill="#ebb378"/>
<circle cx="168.2" cy="478.4" r="4.6" fill="#ebb378"/>
<circle cx="161.6" cy="482.8" r="4.6" fill="#ebb378"/>
<circle cx="176.9" cy="470.4" r="4.6" fill="#ebb378"/>
<circle cx="184.2" cy="480.6" r="4.6" fill="#ebb378"/>
<circle cx="132.4" cy="491.5" r="4.6" fill="#ebb378"/>
<circle cx="179.9" cy="509.1" r="4.6" fill="#ebb378"/>
<circle cx="187.2" cy="504.7" r="4.6" fill="#ebb378"/>
<circle cx="158.7" cy="512" r="4.6" fill="#ebb378"/>
<circle cx="133.8" cy="530.7" r="4.6" fill="#ebb378"/>
<circle cx="43.9" cy="533.3" r="4.6" fill="#ebb378"/>
<circle cx="111.3" cy="532.3" r="4.6" fill="#ebb378"/>
<circle cx="46.4" cy="644.7" r="4.6" fill="#ebb378"/>
<circle cx="58.7" cy="635" r="4.6" fill="#ebb378"/>
<circle cx="90.6" cy="645.9" r="4.6" fill="#ebb378"/>
<circle cx="74.5" cy="667.8" r="4.6" fill="#ebb378"/>
<circle cx="191.1" cy="400.4" r="4.6" fill="#9dca8a"/>
<circle cx="183.8" cy="407.4" r="4.6" fill="#9dca8a"/>
<circle cx="192.6" cy="421.5" r="4.6" fill="#9dca8a"/>
<circle cx="199.3" cy="420.2" r="4.6" fill="#9dca8a"/>
<circle cx="143.4" cy="419.8" r="4.6" fill="#9dca8a"/>
<circle cx="159.4" cy="424.9" r="4.6" fill="#9dca8a"/>
<circle cx="298.0" cy="409.2" r="4.6" fill="#9dca8a"/>
<circle cx="290.6" cy="412.9" r="4.6" fill="#9dca8a"/>
<circle cx="246.6" cy="424.1" r="4.6" fill="#9dca8a"/>
<circle cx="281.0" cy="431.5" r="4.6" fill="#9dca8a"/>
<circle cx="118.0" cy="447.3" r="4.6" fill="#9dca8a"/>
<circle cx="127.5" cy="486.4" r="4.6" fill="#9dca8a"/>
<circle cx="67.7" cy="500" r="4.6" fill="#9dca8a"/>
<circle cx="112.9" cy="503.9" r="4.6" fill="#9dca8a"/>
<circle cx="80.4" cy="518.5" r="4.6" fill="#9dca8a"/>
<circle cx="165.3" cy="433.1" r="4.6" fill="#9dca8a"/>
<circle cx="182.5" cy="444.1" r="4.6" fill="#9dca8a"/>
<circle cx="203.2" cy="441.2" r="4.6" fill="#9dca8a"/>
<circle cx="176.2" cy="452.8" r="4.6" fill="#9dca8a"/>
<circle cx="169.6" cy="468.9" r="4.6" fill="#9dca8a"/>
<circle cx="173.3" cy="465.3" r="4.6" fill="#9dca8a"/>
<circle cx="191.5" cy="471.1" r="4.6" fill="#9dca8a"/>
<circle cx="212.7" cy="466" r="4.6" fill="#9dca8a"/>
<circle cx="194.5" cy="480.6" r="4.6" fill="#9dca8a"/>
<circle cx="203.2" cy="477.7" r="4.6" fill="#9dca8a"/>
<circle cx="213.4" cy="480.6" r="4.6" fill="#9dca8a"/>
<circle cx="129.5" cy="488.6" r="4.6" fill="#9dca8a"/>
<circle cx="184.2" cy="494.5" r="4.6" fill="#9dca8a"/>
<circle cx="176.2" cy="500.3" r="4.6" fill="#9dca8a"/>
<circle cx="201.8" cy="506.1" r="4.6" fill="#9dca8a"/>
<circle cx="207.6" cy="505.4" r="4.6" fill="#9dca8a"/>
<circle cx="217.8" cy="497.4" r="4.6" fill="#9dca8a"/>
<circle cx="221.1" cy="497.5" r="4.6" fill="#9dca8a"/>
<circle cx="228.7" cy="490.9" r="4.6" fill="#9dca8a"/>
<circle cx="235.3" cy="503.2" r="4.6" fill="#9dca8a"/>
<circle cx="244.8" cy="493.7" r="4.6" fill="#9dca8a"/>
<circle cx="256.2" cy="503.8" r="4.6" fill="#9dca8a"/>
<circle cx="222.4" cy="509.3" r="4.6" fill="#9dca8a"/>
<circle cx="244.8" cy="515.2" r="4.6" fill="#9dca8a"/>
<circle cx="229.6" cy="531.7" r="4.6" fill="#9dca8a"/>
<circle cx="202.1" cy="534" r="4.6" fill="#9dca8a"/>
<circle cx="229.6" cy="546.9" r="4.6" fill="#9dca8a"/>
<circle cx="211.6" cy="559.2" r="4.6" fill="#9dca8a"/>
<circle cx="193.6" cy="572.5" r="4.6" fill="#9dca8a"/>
<circle cx="138.5" cy="530.7" r="4.6" fill="#9dca8a"/>
<circle cx="237.2" cy="475.7" r="4.6" fill="#9dca8a"/>
<circle cx="219.2" cy="487.1" r="4.6" fill="#9dca8a"/>
<circle cx="239.2" cy="456.7" r="4.6" fill="#9dca8a"/>
<circle cx="265.1" cy="464.7" r="4.6" fill="#9dca8a"/>
<circle cx="270.1" cy="464.2" r="4.6" fill="#9dca8a"/>
<circle cx="275.1" cy="463.4" r="4.6" fill="#9dca8a"/>
<circle cx="285.1" cy="473.4" r="4.6" fill="#9dca8a"/>
<circle cx="293.5" cy="470" r="4.6" fill="#9dca8a"/>
<circle cx="303.5" cy="462.5" r="4.6" fill="#9dca8a"/>
<circle cx="301.8" cy="467.5" r="4.6" fill="#9dca8a"/>
<circle cx="296.8" cy="477.6" r="4.6" fill="#9dca8a"/>
<circle cx="272.6" cy="481.7" r="4.6" fill="#9dca8a"/>
<circle cx="282.6" cy="483.4" r="4.6" fill="#9dca8a"/>
<circle cx="275.1" cy="491.8" r="4.6" fill="#9dca8a"/>
<circle cx="286.8" cy="491.8" r="4.6" fill="#9dca8a"/>
<circle cx="264.7" cy="495.1" r="4.6" fill="#9dca8a"/>
<circle cx="223.3" cy="485" r="4.6" fill="#9dca8a"/>
<circle cx="284.3" cy="509.3" r="4.6" fill="#9dca8a"/>
<circle cx="291" cy="506.8" r="4.6" fill="#9dca8a"/>
<circle cx="288.4" cy="525.1" r="4.6" fill="#9dca8a"/>
<circle cx="280.1" cy="535.2" r="4.6" fill="#9dca8a"/>
<circle cx="296" cy="535.2" r="4.6" fill="#9dca8a"/>
<circle cx="91.3" cy="538.8" r="4.6" fill="#9dca8a"/>
<circle cx="80.1" cy="549.7" r="4.6" fill="#9dca8a"/>
<circle cx="107.3" cy="568.9" r="4.6" fill="#9dca8a"/>
<line x1="31.50" y1="476.40" x2="316.50" y2="476.40" stroke="#b0b0b0" stroke-width="1.3" stroke-dasharray="6.5,4.5"/>
<line x1="170.20" y1="333.40" x2="170.20" y2="683.50" stroke="#b0b0b0" stroke-width="1.3" stroke-dasharray="6.5,4.5"/>
<line x1="172.40" y1="476.20" x2="134.30" y2="451.50" stroke="#231f20" stroke-width="1.4" stroke-linecap="round"/>
<polyline points="140.28,452.02 134.30,451.50 137.21,456.75" fill="none" stroke="#231f20" stroke-width="1.4" stroke-linejoin="miter" stroke-linecap="round"/>
<line x1="172.40" y1="476.20" x2="191.90" y2="452.10" stroke="#231f20" stroke-width="1.4" stroke-linecap="round"/>
<polyline points="190.76,457.99 191.90,452.10 186.38,454.45" fill="none" stroke="#231f20" stroke-width="1.4" stroke-linejoin="miter" stroke-linecap="round"/>
<line x1="172.40" y1="476.20" x2="216.60" y2="441.60" stroke="#231f20" stroke-width="1.4" stroke-linecap="round"/>
<polyline points="214.16,447.08 216.60,441.60 210.69,442.65" fill="none" stroke="#231f20" stroke-width="1.4" stroke-linejoin="miter" stroke-linecap="round"/>
<line x1="172.40" y1="476.20" x2="207.70" y2="460.20" stroke="#231f20" stroke-width="1.4" stroke-linecap="round"/>
<polyline points="204.04,464.95 207.70,460.20 201.71,459.82" fill="none" stroke="#231f20" stroke-width="1.4" stroke-linejoin="miter" stroke-linecap="round"/>
<line x1="172.40" y1="476.20" x2="251.50" y2="467.90" stroke="#231f20" stroke-width="1.4" stroke-linecap="round"/>
<polyline points="246.53,471.25 251.50,467.90 245.94,465.65" fill="none" stroke="#231f20" stroke-width="1.4" stroke-linejoin="miter" stroke-linecap="round"/>
<line x1="172.40" y1="476.20" x2="252.80" y2="463.90" stroke="#231f20" stroke-width="1.4" stroke-linecap="round"/>
<polyline points="247.99,467.49 252.80,463.90 247.14,461.92" fill="none" stroke="#231f20" stroke-width="1.4" stroke-linejoin="miter" stroke-linecap="round"/>
<line x1="172.40" y1="476.20" x2="251.50" y2="484.30" stroke="#231f20" stroke-width="1.4" stroke-linecap="round"/>
<polyline points="245.94,486.56 251.50,484.30 246.52,480.96" fill="none" stroke="#231f20" stroke-width="1.4" stroke-linejoin="miter" stroke-linecap="round"/>
<line x1="172.40" y1="476.20" x2="217.30" y2="528.80" stroke="#231f20" stroke-width="1.4" stroke-linecap="round"/>
<polyline points="211.72,526.60 217.30,528.80 216.00,522.94" fill="none" stroke="#231f20" stroke-width="1.4" stroke-linejoin="miter" stroke-linecap="round"/>
<line x1="172.40" y1="476.20" x2="203.10" y2="549.70" stroke="#231f20" stroke-width="1.4" stroke-linecap="round"/>
<polyline points="198.46,545.90 203.10,549.70 203.66,543.73" fill="none" stroke="#231f20" stroke-width="1.4" stroke-linejoin="miter" stroke-linecap="round"/>
<line x1="172.40" y1="476.20" x2="164.50" y2="546.90" stroke="#231f20" stroke-width="1.4" stroke-linecap="round"/>
<polyline points="162.29,541.32 164.50,546.90 167.89,541.95" fill="none" stroke="#231f20" stroke-width="1.4" stroke-linejoin="miter" stroke-linecap="round"/>
<line x1="172.40" y1="476.20" x2="249.90" y2="449.90" stroke="#e60012" stroke-width="1.4" stroke-linecap="round"/>
<polyline points="245.79,454.27 249.90,449.90 243.98,448.94" fill="none" stroke="#e60012" stroke-width="1.4" stroke-linejoin="miter" stroke-linecap="round"/>
<text transform="translate(191.00,449.00) rotate(-48.70)" font-size="10.2" text-anchor="start"><tspan fill="#231f20">RootDiam</tspan></text>
<text transform="translate(217.50,443.30) rotate(-31.00)" font-size="10.2" text-anchor="start"><tspan fill="#231f20">RHL</tspan></text>
<text transform="translate(211.00,460.00) rotate(-27.50)" font-size="10.2" text-anchor="start"><tspan fill="#231f20">ShootN</tspan></text>
<text transform="translate(254.00,454.00) rotate(-21.80)" font-size="10.2" text-anchor="start"><tspan fill="#e60012">NRhizoDW</tspan></text>
<text transform="translate(254.00,464.00) rotate(-15.00)" font-size="10.2" text-anchor="start"><tspan fill="#231f20">ShootNC</tspan></text>
<text transform="translate(252.50,474.50) rotate(-9.50)" font-size="10.2" text-anchor="start"><tspan fill="#231f20">ShootDW</tspan></text>
<text transform="translate(254.00,488.50) rotate(5.70)" font-size="10.2" text-anchor="start"><tspan fill="#231f20">LRD</tspan></text>
<text transform="translate(216.40,533.60) rotate(35.50)" font-size="10.2" text-anchor="start"><tspan fill="#231f20">RV</tspan></text>
<text transform="translate(200.40,551.10) rotate(61.00)" font-size="10.2" text-anchor="start"><tspan fill="#231f20">RSA</tspan></text>
<text transform="translate(165.00,564.30) rotate(-86.00)" font-size="10.2" text-anchor="start"><tspan fill="#231f20">TRL</tspan></text>
<text transform="translate(121.60,443.00) rotate(52.00)" font-size="10.2" text-anchor="start"><tspan fill="#231f20">Qx</tspan></text>
<polygon points="217.30,408.40 217.95,409.91 219.58,410.06 218.35,411.14 218.71,412.74 217.30,411.90 215.89,412.74 216.25,411.14 215.02,410.06 216.65,409.91" fill="#e83a48"/>
<polygon points="235.30,423.30 235.95,424.81 237.58,424.96 236.35,426.04 236.71,427.64 235.30,426.80 233.89,427.64 234.25,426.04 233.02,424.96 234.65,424.81" fill="#e83a48"/>
<polygon points="240.80,419.40 241.45,420.91 243.08,421.06 241.85,422.14 242.21,423.74 240.80,422.90 239.39,423.74 239.75,422.14 238.52,421.06 240.15,420.91" fill="#e83a48"/>
<polygon points="246.00,415.10 246.65,416.61 248.28,416.76 247.05,417.84 247.41,419.44 246.00,418.60 244.59,419.44 244.95,417.84 243.72,416.76 245.35,416.61" fill="#e83a48"/>
<polygon points="239.30,439.60 239.95,441.11 241.58,441.26 240.35,442.34 240.71,443.94 239.30,443.10 237.89,443.94 238.25,442.34 237.02,441.26 238.65,441.11" fill="#e83a48"/>
<polygon points="245.70,437.00 246.35,438.51 247.98,438.66 246.75,439.74 247.11,441.34 245.70,440.50 244.29,441.34 244.65,439.74 243.42,438.66 245.05,438.51" fill="#e83a48"/>
<polygon points="251.70,434.50 252.35,436.01 253.98,436.16 252.75,437.24 253.11,438.84 251.70,438.00 250.29,438.84 250.65,437.24 249.42,436.16 251.05,436.01" fill="#e83a48"/>
<polygon points="291.40,450.40 292.05,451.91 293.68,452.06 292.45,453.14 292.81,454.74 291.40,453.90 289.99,454.74 290.35,453.14 289.12,452.06 290.75,451.91" fill="#e83a48"/>
<polygon points="297.70,449.50 298.35,451.01 299.98,451.16 298.75,452.24 299.11,453.84 297.70,453.00 296.29,453.84 296.65,452.24 295.42,451.16 297.05,451.01" fill="#e83a48"/>
<polygon points="304.60,448.50 305.25,450.01 306.88,450.16 305.65,451.24 306.01,452.84 304.60,452.00 303.19,452.84 303.55,451.24 302.32,450.16 303.95,450.01" fill="#e83a48"/>
<polygon points="294.10,463.20 294.75,464.71 296.38,464.86 295.15,465.94 295.51,467.54 294.10,466.70 292.69,467.54 293.05,465.94 291.82,464.86 293.45,464.71" fill="#e83a48"/>
<polygon points="300.60,462.70 301.25,464.21 302.88,464.36 301.65,465.44 302.01,467.04 300.60,466.20 299.19,467.04 299.55,465.44 298.32,464.36 299.95,464.21" fill="#e83a48"/>
<polygon points="307.50,462.20 308.15,463.71 309.78,463.86 308.55,464.94 308.91,466.54 307.50,465.70 306.09,466.54 306.45,464.94 305.22,463.86 306.85,463.71" fill="#e83a48"/>
<polygon points="277.30,483.30 277.95,484.81 279.58,484.96 278.35,486.04 278.71,487.64 277.30,486.80 275.89,487.64 276.25,486.04 275.02,484.96 276.65,484.81" fill="#e83a48"/>
<polygon points="283.80,483.50 284.45,485.01 286.08,485.16 284.85,486.24 285.21,487.84 283.80,487.00 282.39,487.84 282.75,486.24 281.52,485.16 283.15,485.01" fill="#e83a48"/>
<polygon points="290.30,484.40 290.95,485.91 292.58,486.06 291.35,487.14 291.71,488.74 290.30,487.90 288.89,488.74 289.25,487.14 288.02,486.06 289.65,485.91" fill="#e83a48"/>
<polygon points="230.90,538.60 231.55,540.11 233.18,540.26 231.95,541.34 232.31,542.94 230.90,542.10 229.49,542.94 229.85,541.34 228.62,540.26 230.25,540.11" fill="#e83a48"/>
<polygon points="235.50,543.60 236.15,545.11 237.78,545.26 236.55,546.34 236.91,547.94 235.50,547.10 234.09,547.94 234.45,546.34 233.22,545.26 234.85,545.11" fill="#e83a48"/>
<polygon points="159.10,566.20 159.75,567.71 161.38,567.86 160.15,568.94 160.51,570.54 159.10,569.70 157.69,570.54 158.05,568.94 156.82,567.86 158.45,567.71" fill="#e83a48"/>
<polygon points="158.80,572.70 159.45,574.21 161.08,574.36 159.85,575.44 160.21,577.04 158.80,576.20 157.39,577.04 157.75,575.44 156.52,574.36 158.15,574.21" fill="#e83a48"/>
<polygon points="158.10,578.80 158.75,580.31 160.38,580.46 159.15,581.54 159.51,583.14 158.10,582.30 156.69,583.14 157.05,581.54 155.82,580.46 157.45,580.31" fill="#e83a48"/>
<polygon points="117.00,431.90 117.65,433.41 119.28,433.56 118.05,434.64 118.41,436.24 117.00,435.40 115.59,436.24 115.95,434.64 114.72,433.56 116.35,433.41" fill="#e83a48"/>
<polygon points="121.90,435.70 122.55,437.21 124.18,437.36 122.95,438.44 123.31,440.04 121.90,439.20 120.49,440.04 120.85,438.44 119.62,437.36 121.25,437.21" fill="#e83a48"/>
<polyline points="31.5,333.6 316.5,333.6 316.5,683.5 31.5,683.5" fill="none" stroke="#444" stroke-width="1.1"/><line x1="31.5" y1="333.05" x2="31.5" y2="684.05" stroke="#6e6e6e" stroke-width="1.15"/>
<rect x="244.6" y="638.4" width="71.9" height="45.1" fill="#fff" stroke="#333" stroke-width="1.0"/>
<circle cx="252.8" cy="654.6" r="4.2" fill="#ebb378"/>
<circle cx="252.8" cy="666.6" r="4.2" fill="#9dca8a"/>
<text x="262.60" y="658.30" font-size="10.2" text-anchor="start" font-weight="normal" font-style="normal" fill="#231f20" >Inbred line</text>
<text x="262.60" y="669.60" font-size="10.2" text-anchor="start" font-weight="normal" font-style="normal" fill="#231f20" >Hybrid</text>
<line x1="28.00" y1="340.04" x2="31.50" y2="340.04" stroke="#333" stroke-width="1.6" />
<text x="25.30" y="343.94" font-size="11.5" text-anchor="end" fill="#231f20">4</text>
<line x1="28.00" y1="408.22" x2="31.50" y2="408.22" stroke="#333" stroke-width="1.6" />
<text x="25.30" y="412.12" font-size="11.5" text-anchor="end" fill="#231f20">2</text>
<line x1="28.00" y1="476.40" x2="31.50" y2="476.40" stroke="#333" stroke-width="1.6" />
<text x="25.30" y="480.30" font-size="11.5" text-anchor="end" fill="#231f20">0</text>
<line x1="28.00" y1="544.58" x2="31.50" y2="544.58" stroke="#333" stroke-width="1.6" />
<text x="25.30" y="548.48" font-size="11.5" text-anchor="end" fill="#231f20"><tspan letter-spacing="1.6">−</tspan>2</text>
<line x1="28.00" y1="612.76" x2="31.50" y2="612.76" stroke="#333" stroke-width="1.6" />
<text x="25.30" y="616.66" font-size="11.5" text-anchor="end" fill="#231f20"><tspan letter-spacing="1.6">−</tspan>4</text>
<line x1="28.00" y1="680.94" x2="31.50" y2="680.94" stroke="#333" stroke-width="1.6" />
<text x="25.30" y="684.84" font-size="11.5" text-anchor="end" fill="#231f20"><tspan letter-spacing="1.6">−</tspan>6</text>
<line x1="33.80" y1="683.50" x2="33.80" y2="686.80" stroke="#333" stroke-width="1.6" />
<text x="36.70" y="698.00" font-size="11.5" text-anchor="end" fill="#231f20"><tspan letter-spacing="1.6">−</tspan>4</text>
<line x1="102.00" y1="683.50" x2="102.00" y2="686.80" stroke="#333" stroke-width="1.6" />
<text x="104.90" y="698.00" font-size="11.5" text-anchor="end" fill="#231f20"><tspan letter-spacing="1.6">−</tspan>2</text>
<line x1="170.20" y1="683.50" x2="170.20" y2="686.80" stroke="#333" stroke-width="1.6" />
<text x="173.10" y="698.00" font-size="11.5" text-anchor="end" fill="#231f20">0</text>
<line x1="238.40" y1="683.50" x2="238.40" y2="686.80" stroke="#333" stroke-width="1.6" />
<text x="241.30" y="698.00" font-size="11.5" text-anchor="end" fill="#231f20">2</text>
<line x1="306.60" y1="683.50" x2="306.60" y2="686.80" stroke="#333" stroke-width="1.6" />
<text x="309.50" y="698.00" font-size="11.5" text-anchor="end" fill="#231f20">4</text>
<text x="169.70" y="713.60" font-size="12.3" text-anchor="middle" font-weight="normal" font-style="normal" fill="#231f20" >PCA1 (38.9%)</text>
<text transform="translate(9.8,496.3) rotate(-90)" font-size="12.0" text-anchor="middle" fill="#231f20">PCA2 (18.8% )</text>
<text x="342.70" y="321.60" font-size="19.5" text-anchor="start" font-weight="bold" font-style="normal" fill="#000" >d</text>
<line x1="372.90" y1="499.40" x2="684.20" y2="499.40" stroke="#b0b0b0" stroke-width="1.3" stroke-dasharray="6.5,4.5"/>
<line x1="517.20" y1="333.30" x2="517.20" y2="683.40" stroke="#b0b0b0" stroke-width="1.3" stroke-dasharray="6.5,4.5"/>
<line x1="517.40" y1="499.40" x2="543.70" y2="408.60" stroke="#231f20" stroke-width="1.4" stroke-linecap="round"/>
<polyline points="544.93,414.47 543.70,408.60 539.52,412.90" fill="none" stroke="#231f20" stroke-width="1.4" stroke-linejoin="miter" stroke-linecap="round"/>
<line x1="517.40" y1="499.40" x2="594.60" y2="429.40" stroke="#231f20" stroke-width="1.4" stroke-linecap="round"/>
<polyline points="592.57,435.05 594.60,429.40 588.78,430.87" fill="none" stroke="#231f20" stroke-width="1.4" stroke-linejoin="miter" stroke-linecap="round"/>
<line x1="517.40" y1="499.40" x2="617.80" y2="468.80" stroke="#231f20" stroke-width="1.4" stroke-linecap="round"/>
<polyline points="613.55,473.04 617.80,468.80 611.91,467.65" fill="none" stroke="#231f20" stroke-width="1.4" stroke-linejoin="miter" stroke-linecap="round"/>
<line x1="517.40" y1="499.40" x2="580.50" y2="524.70" stroke="#231f20" stroke-width="1.4" stroke-linecap="round"/>
<polyline points="574.53,525.34 580.50,524.70 576.63,520.11" fill="none" stroke="#231f20" stroke-width="1.4" stroke-linejoin="miter" stroke-linecap="round"/>
<line x1="517.40" y1="499.40" x2="596.90" y2="531.80" stroke="#231f20" stroke-width="1.4" stroke-linecap="round"/>
<polyline points="590.93,532.41 596.90,531.80 593.06,527.19" fill="none" stroke="#231f20" stroke-width="1.4" stroke-linejoin="miter" stroke-linecap="round"/>
<line x1="517.40" y1="499.40" x2="610.60" y2="537.50" stroke="#231f20" stroke-width="1.4" stroke-linecap="round"/>
<polyline points="604.63,538.10 610.60,537.50 606.76,532.89" fill="none" stroke="#231f20" stroke-width="1.4" stroke-linejoin="miter" stroke-linecap="round"/>
<line x1="517.40" y1="499.40" x2="609.50" y2="542.00" stroke="#231f20" stroke-width="1.4" stroke-linecap="round"/>
<polyline points="603.51,542.33 609.50,542.00 605.87,537.22" fill="none" stroke="#231f20" stroke-width="1.4" stroke-linejoin="miter" stroke-linecap="round"/>
<line x1="517.40" y1="499.40" x2="572.40" y2="548.60" stroke="#231f20" stroke-width="1.4" stroke-linecap="round"/>
<polyline points="566.57,547.17 572.40,548.60 570.33,542.97" fill="none" stroke="#231f20" stroke-width="1.4" stroke-linejoin="miter" stroke-linecap="round"/>
<line x1="517.40" y1="499.40" x2="575.60" y2="574.50" stroke="#231f20" stroke-width="1.4" stroke-linecap="round"/>
<polyline points="570.13,572.04 575.60,574.50 574.58,568.59" fill="none" stroke="#231f20" stroke-width="1.4" stroke-linejoin="miter" stroke-linecap="round"/>
<line x1="517.40" y1="499.40" x2="508.20" y2="590.10" stroke="#231f20" stroke-width="1.4" stroke-linecap="round"/>
<polyline points="505.93,584.55 508.20,590.10 511.54,585.11" fill="none" stroke="#231f20" stroke-width="1.4" stroke-linejoin="miter" stroke-linecap="round"/>
<line x1="517.40" y1="499.40" x2="590.60" y2="402.00" stroke="#e60012" stroke-width="1.4" stroke-linecap="round"/>
<polyline points="589.67,407.93 590.60,402.00 585.17,404.54" fill="none" stroke="#e60012" stroke-width="1.4" stroke-linejoin="miter" stroke-linecap="round"/>
<text transform="translate(548.90,402.80) rotate(-74.60)" font-size="10.0" text-anchor="start"><tspan fill="#231f20">RHL</tspan></text>
<text transform="translate(596.90,397.60) rotate(-52.90)" font-size="10.0" text-anchor="start"><tspan fill="#e60012">NRhizoDW</tspan></text>
<text transform="translate(600.40,429.00) rotate(-41.00)" font-size="10.0" text-anchor="start"><tspan fill="#231f20">LRD</tspan></text>
<text transform="translate(623.80,468.10) rotate(-15.70)" font-size="10.0" text-anchor="start"><tspan fill="#231f20">ShootDW</tspan></text>
<text transform="translate(575.00,517.50) rotate(21.80)" font-size="10.0" text-anchor="start"><tspan fill="#231f20">Qx</tspan></text>
<text transform="translate(590.00,525.00) rotate(22.20)" font-size="10.0" text-anchor="start"><tspan fill="#231f20">RootDiam</tspan></text>
<text transform="translate(609.80,542.00) rotate(22.20)" font-size="10.0" text-anchor="start"><tspan fill="#231f20">ShootNC</tspan></text>
<text transform="translate(603.20,550.50) rotate(24.80)" font-size="10.0" text-anchor="start"><tspan fill="#231f20">RV</tspan></text>
<text transform="translate(574.20,555.00) rotate(41.30)" font-size="10.0" text-anchor="start"><tspan fill="#231f20">RSA</tspan></text>
<text transform="translate(574.50,580.30) rotate(52.20)" font-size="10.0" text-anchor="start"><tspan fill="#231f20">ShootN</tspan></text>
<text transform="translate(511.00,612.30) rotate(-84.20)" font-size="10.0" text-anchor="start"><tspan fill="#231f20">TRL</tspan></text>
<polygon points="549.60,378.30 550.25,379.81 551.88,379.96 550.65,381.04 551.01,382.64 549.60,381.80 548.19,382.64 548.55,381.04 547.32,379.96 548.95,379.81" fill="#e83a48"/>
<polygon points="551.30,371.90 551.95,373.41 553.58,373.56 552.35,374.64 552.71,376.24 551.30,375.40 549.89,376.24 550.25,374.64 549.02,373.56 550.65,373.41" fill="#e83a48"/>
<polygon points="553.20,365.40 553.85,366.91 555.48,367.06 554.25,368.14 554.61,369.74 553.20,368.90 551.79,369.74 552.15,368.14 550.92,367.06 552.55,366.91" fill="#e83a48"/>
<polygon points="614.80,407.50 615.45,409.01 617.08,409.16 615.85,410.24 616.21,411.84 614.80,411.00 613.39,411.84 613.75,410.24 612.52,409.16 614.15,409.01" fill="#e83a48"/>
<polygon points="620.10,403.40 620.75,404.91 622.38,405.06 621.15,406.14 621.51,407.74 620.10,406.90 618.69,407.74 619.05,406.14 617.82,405.06 619.45,404.91" fill="#e83a48"/>
<polygon points="664.00,449.00 664.65,450.51 666.28,450.66 665.05,451.74 665.41,453.34 664.00,452.50 662.59,453.34 662.95,451.74 661.72,450.66 663.35,450.51" fill="#e83a48"/>
<polygon points="503.00,615.90 503.65,617.41 505.28,617.56 504.05,618.64 504.41,620.24 503.00,619.40 501.59,620.24 501.95,618.64 500.72,617.56 502.35,617.41" fill="#e83a48"/>
<line x1="373.1" y1="333.3" x2="373.1" y2="683.4" stroke="#a8a8a8" stroke-width="1.7"/>
<polyline points="372.3,333.3 684.2,333.3 684.2,683.4 372.3,683.4" fill="none" stroke="#404040" stroke-width="1.1"/>
<line x1="369.40" y1="403.40" x2="372.90" y2="403.40" stroke="#333" stroke-width="1.6" />
<text x="368.30" y="407.30" font-size="11.5" text-anchor="end" fill="#231f20">2</text>
<line x1="369.40" y1="499.40" x2="372.90" y2="499.40" stroke="#333" stroke-width="1.6" />
<text x="368.30" y="503.30" font-size="11.5" text-anchor="end" fill="#231f20">0</text>
<line x1="369.40" y1="595.40" x2="372.90" y2="595.40" stroke="#333" stroke-width="1.6" />
<text x="368.30" y="599.30" font-size="11.5" text-anchor="end" fill="#231f20"><tspan letter-spacing="1.6">−</tspan>2</text>
<line x1="420.60" y1="683.40" x2="420.60" y2="686.70" stroke="#333" stroke-width="1.6" />
<text x="423.50" y="698.00" font-size="11.5" text-anchor="end" fill="#231f20"><tspan letter-spacing="1.6">−</tspan>2</text>
<line x1="468.90" y1="683.40" x2="468.90" y2="686.70" stroke="#333" stroke-width="1.6" />
<text x="471.80" y="698.00" font-size="11.5" text-anchor="end" fill="#231f20"><tspan letter-spacing="1.6">−</tspan>1</text>
<line x1="517.20" y1="683.40" x2="517.20" y2="686.70" stroke="#333" stroke-width="1.6" />
<text x="520.10" y="698.00" font-size="11.5" text-anchor="end" fill="#231f20">0</text>
<line x1="565.50" y1="683.40" x2="565.50" y2="686.70" stroke="#333" stroke-width="1.6" />
<text x="568.40" y="698.00" font-size="11.5" text-anchor="end" fill="#231f20">1</text>
<line x1="613.80" y1="683.40" x2="613.80" y2="686.70" stroke="#333" stroke-width="1.6" />
<text x="616.70" y="698.00" font-size="11.5" text-anchor="end" fill="#231f20">2</text>
<line x1="662.10" y1="683.40" x2="662.10" y2="686.70" stroke="#333" stroke-width="1.6" />
<text x="665.00" y="698.00" font-size="11.5" text-anchor="end" fill="#231f20">3</text>
<text x="534.70" y="716.00" font-size="12.3" text-anchor="middle" font-weight="normal" font-style="normal" fill="#231f20" >PCA1 (32.1%)</text>
<text transform="translate(353.8,504.4) rotate(-90)" font-size="12.4" text-anchor="middle" fill="#231f20">PCA2 (25.6%)</text></svg>
</body></html>
